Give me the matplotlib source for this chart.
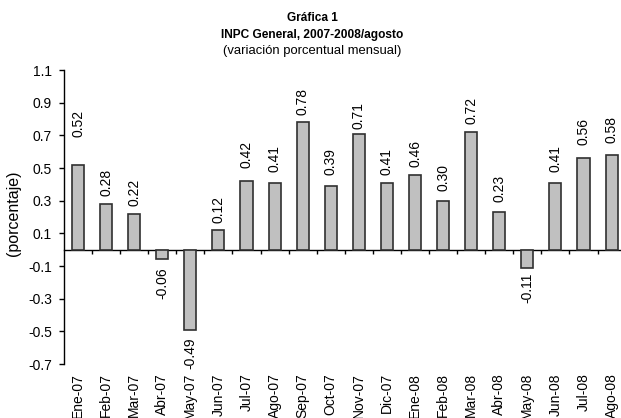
import matplotlib
matplotlib.use("Agg")
import matplotlib.pyplot as plt
import matplotlib.transforms as mtransforms
from matplotlib.ticker import FixedLocator, NullFormatter

categories = ["Ene-07", "Feb-07", "Mar-07", "Abr-07", "May-07", "Jun-07", "Jul-07",
              "Ago-07", "Sep-07", "Oct-07", "Nov-07", "Dic-07", "Ene-08", "Feb-08",
              "Mar-08", "Abr-08", "May-08", "Jun-08", "Jul-08", "Ago-08"]
values = [0.52, 0.28, 0.22, -0.06, -0.49, 0.12, 0.42, 0.41, 0.78, 0.39,
          0.71, 0.41, 0.46, 0.30, 0.72, 0.23, -0.11, 0.41, 0.56, 0.58]
value_labels = ["0.52", "0.28", "0.22", "-0.06", "-0.49", "0.12", "0.42", "0.41", "0.78", "0.39",
                "0.71", "0.41", "0.46", "0.30", "0.72", "0.23", "-0.11", "0.41", "0.56", "0.58"]
# gap (pixels) between bar end and its data label, as seen in the reference
label_gap_px = [28, 8, 8, 8, 8, 7, 13, 11, 7, 11,
                5, 8, 8, 10, 8, 10, 5, 11, 13, 12]
yticks = [-0.7, -0.5, -0.3, -0.1, 0.1, 0.3, 0.5, 0.7, 0.9, 1.1]
ytick_labels = ["-0.7", "-0.5", "-0.3", "-0.1", "0.1", "0.3", "0.5", "0.7", "0.9", "1.1"]

plt.rcParams['font.family'] = ['Liberation Sans', 'DejaVu Sans']
FS = 10
W, H = 621, 418
fig = plt.figure(figsize=(W / 100, H / 100), dpi=100)
ax = fig.add_axes([64 / W, (H - 364) / H, 561.6 / W, 294 / H])

n = len(categories)
x = list(range(n))
ax.bar(x, values, width=0.43, color="#C0C0C0", edgecolor="#303030", linewidth=1.2, zorder=3)

ax.set_xlim(-0.5, n - 0.5)
ax.set_ylim(-0.7, 1.1)
ax.set_yticks(yticks)
ax.set_yticklabels(ytick_labels, fontsize=FS)
ax.tick_params(axis='y', direction='out', length=3.6, width=1, pad=5, colors='black')

for s in ['top', 'right']:
    ax.spines[s].set_visible(False)
ax.spines['left'].set_linewidth(1)
ax.spines['bottom'].set_position(('data', 0))
ax.spines['bottom'].set_linewidth(1)
ax.xaxis.set_major_locator(FixedLocator([k + 0.5 for k in range(n)]))
ax.xaxis.set_major_formatter(NullFormatter())
ax.tick_params(axis='x', direction='out', length=3, width=1)

# category labels under the plot
trans = mtransforms.blended_transform_factory(ax.transData, ax.transAxes)
off = mtransforms.ScaledTranslation(0, -9 / 100, fig.dpi_scale_trans)
for xi, c in zip(x, categories):
    ax.text(xi, 0, c, rotation=90, ha='center', va='top', fontsize=FS,
            transform=trans + off, clip_on=False)

# value labels
for xi, v, lab, g in zip(x, values, value_labels, label_gap_px):
    if v >= 0:
        ax.annotate(lab, (xi, v), xytext=(0, g * 0.72), textcoords='offset points',
                    rotation=90, ha='center', va='bottom', fontsize=FS)
    else:
        ax.annotate(lab, (xi, v), xytext=(0, -g * 0.72), textcoords='offset points',
                    rotation=90, ha='center', va='top', fontsize=FS)

fig.text(14 / W, 1 - 213 / H, "(porcentaje)", rotation=90, ha='center', va='center', fontsize=11.5)
fig.text(312 / W, 1 - 18 / H, "Gráfica 1", ha='center', va='center', fontsize=8.6, fontweight='bold')
fig.text(312 / W, 1 - 35 / H, "INPC General, 2007-2008/agosto", ha='center', va='center',
         fontsize=8.6, fontweight='bold')
fig.text(312 / W, 1 - 51 / H, "(variación porcentual mensual)", ha='center', va='center', fontsize=9.4)

fig.savefig("out.png", dpi=100)
